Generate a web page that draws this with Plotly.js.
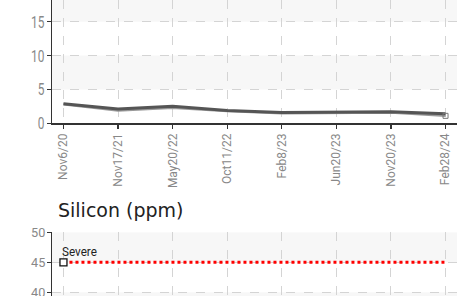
<!DOCTYPE html>
<html>
<head>
<meta charset="utf-8">
<script src="https://cdn.plot.ly/plotly-3.0.1.min.js"></script>
<style>
html,body{margin:0;padding:0;overflow:hidden;background:#fff;}
#chart{width:471px;height:310px;}
</style>
</head>
<body>
<div id="chart"></div>
<script>
// ---- data ----
const categories = ["Nov6/20","Nov17/21","May20/22","Oct11/22","Feb8/23","Jun20/23","Nov20/23","Feb28/24"];
const seriesA = [2.9, 2.1, 2.5, 1.9, 1.6, 1.7, 1.7, 1.4];
const seriesB = [2.8, 1.9, 2.3, 1.8, 1.5, 1.6, 1.6, 1.1];
const severeLimit = [45, 45, 45, 45, 45, 45, 45, 45];
const topTicks = [0, 5, 10, 15];
const bottomTicks = [40, 45, 50];
const topBands = [[5, 10], [15, 20]];
const bottomBands = [[35, 40], [45, 50]];
const chartTitle = "Silicon (ppm)";
const severeLabel = "Severe";

const narrow = "Roboto, DejaVu Sans Condensed, sans-serif";
const gridCol = "#d4d4d4";

const traces = [
  {x: categories, y: seriesB, type: "scatter", mode: "lines", xaxis: "x", yaxis: "y",
   line: {color: "#9a9a9a", width: 2.5}, hoverinfo: "skip"},
  {x: categories, y: seriesA, type: "scatter", mode: "lines", xaxis: "x", yaxis: "y",
   line: {color: "#555", width: 3}, hoverinfo: "skip"},
  {x: [categories[categories.length-1]], y: [seriesB[seriesB.length-1]], type: "scatter", mode: "markers",
   xaxis: "x", yaxis: "y", marker: {symbol: "square-open", size: 5, color: "#777", line: {width: 1}}, hoverinfo: "skip"},
  {x: categories, y: severeLimit, type: "scatter", mode: "lines", xaxis: "x2", yaxis: "y2",
   line: {color: "#ff0000", width: 3, dash: "dot"}, hoverinfo: "skip"},
  {x: [categories[0]], y: [severeLimit[0]], type: "scatter", mode: "markers", xaxis: "x2", yaxis: "y2",
   marker: {symbol: "square", size: 7, color: "#fff", line: {color: "#111", width: 1.3}}, hoverinfo: "skip"}
];

const shapes = [];
topBands.forEach(b => shapes.push({type: "rect", xref: "x domain", yref: "y", x0: 0, x1: 1, y0: b[0], y1: b[1],
  fillcolor: "#f7f7f7", line: {width: 0}, layer: "below"}));
bottomBands.forEach(b => shapes.push({type: "rect", xref: "x2 domain", yref: "y2", x0: 0, x1: 1, y0: b[0], y1: b[1],
  fillcolor: "#f7f7f7", line: {width: 0}, layer: "below"}));

const axisLine = {showline: true, linecolor: "#333", linewidth: 1.5,
  ticks: "outside", ticklen: 4, tickcolor: "#333", tickwidth: 1.3,
  showgrid: true, gridcolor: gridCol, griddash: "dash", gridwidth: 1, zeroline: false};

const layout = {
  width: 471, height: 310,
  margin: {l: 52, r: 14, t: 0, b: 0, pad: 0},
  paper_bgcolor: "#fff", plot_bgcolor: "rgba(0,0,0,0)",
  showlegend: false,
  xaxis: Object.assign({
    domain: [0, 1], anchor: "y", type: "category", range: [-0.21, 7.21],
    tickvals: categories, ticktext: categories, tickangle: -90,
    tickfont: {family: narrow, size: 12, color: "#888"}
  }, axisLine),
  yaxis: Object.assign({
    domain: [0.6023, 1], anchor: "x", range: [0, 18.2],
    tickvals: topTicks, tickfont: {family: narrow, size: 17, color: "#888"}
  }, axisLine),
  xaxis2: {
    domain: [0, 1], anchor: "y2", type: "category", range: [-0.21, 7.21],
    tickvals: categories, showticklabels: false, ticks: "",
    showline: false, showgrid: true, gridcolor: gridCol, griddash: "dash", gridwidth: 1, zeroline: false
  },
  yaxis2: Object.assign({
    domain: [0, 0.2506], anchor: "x2", range: [37.05, 50],
    tickvals: bottomTicks, tickfont: {family: narrow, size: 12.7, color: "#888"}
  }, axisLine),
  shapes: shapes,
  annotations: [
    {text: chartTitle, xref: "paper", yref: "paper", x: 0.0099, y: 0.3226, xanchor: "left", yanchor: "middle",
     showarrow: false, font: {family: "DejaVu Sans, Verdana, sans-serif", size: 19, color: "#222"}},
    {text: severeLabel, xref: "x2", yref: "y2", x: categories[0], y: severeLimit[0], xanchor: "left", yanchor: "bottom",
     yshift: 1, xshift: -3, showarrow: false,
     font: {family: narrow, size: 13, color: "#222"}}
  ]
};

const SVGNS = "http://www.w3.org/2000/svg";
// wrap a text node in a <g> and condense it in its parent's (unrotated) space about a fixed point
function condense(t, sx, sy, pick, dx) {
  const wrap = document.createElementNS(SVGNS, "g");
  t.parentNode.insertBefore(wrap, t);
  wrap.appendChild(t);
  const bb = wrap.getBBox();
  const [cx, cy] = pick(bb);
  wrap.setAttribute("transform",
    `translate(${cx + (dx || 0)} ${cy}) scale(${sx} ${sy}) translate(${-cx} ${-cy})`);
}

Plotly.newPlot("chart", traces, layout, {displayModeBar: false, staticPlot: true}).then(gd => {
  gd.querySelectorAll(".ytick text").forEach(t =>
    condense(t, 0.7, 1, bb => [bb.x + bb.width, bb.y + bb.height / 2], 1.4));
  gd.querySelectorAll(".y2tick text").forEach(t =>
    condense(t, 1, 1, bb => [bb.x + bb.width, bb.y + bb.height / 2], 1.4));
  const ann = gd.querySelectorAll(".annotation-text");
  if (ann.length > 1) condense(ann[1], 0.9, 1, bb => [bb.x, bb.y + bb.height], 0);
});
</script>
</body>
</html>
